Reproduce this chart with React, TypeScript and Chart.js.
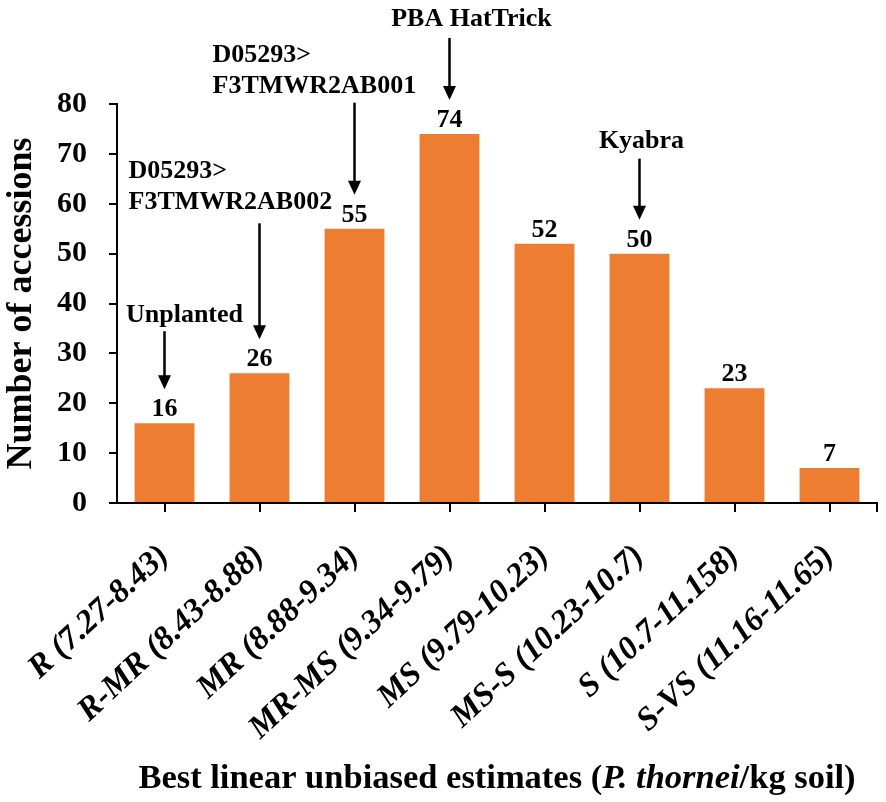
import { useEffect, useRef } from "react";
import { Chart, registerables } from "chart.js";

Chart.register(...registerables);

// ---- data ----
const categories = [
  "R (7.27-8.43)",
  "R-MR (8.43-8.88)",
  "MR (8.88-9.34)",
  "MR-MS (9.34-9.79)",
  "MS (9.79-10.23)",
  "MS-S (10.23-10.7)",
  "S (10.7-11.158)",
  "S-VS (11.16-11.65)",
];
const accessions = [16, 26, 55, 74, 52, 50, 23, 7];
const yTickValues = [0, 10, 20, 30, 40, 50, 60, 70, 80];
const annotationTargets = [0, 1, 2, 3, 5];
const annotationTexts = [
  ["Unplanted"],
  ["D05293>", "F3TMWR2AB002"],
  ["D05293>", "F3TMWR2AB001"],
  ["PBA HatTrick"],
  ["Kyabra"],
];
const xTitleRuns = [
  { text: "Best linear unbiased estimates (", italic: false },
  { text: "P. thornei", italic: true },
  { text: "/kg soil)", italic: false },
];
const yTitle = "Number of accessions";

// ---- styles / layout (not data) ----
const FONT = "'Liberation Serif', 'Times New Roman', serif";
const BAR_COLOR = "#ED7D31";
const annotationLayout = [
  { dx: 20, align: "center", len: 58, gap: 9 },
  { dx: -131, align: "left", len: 116, gap: 14 },
  { dx: -142, align: "left", len: 92, gap: 10 },
  { dx: 22, align: "center", len: 62, gap: 12 },
  { dx: 2, align: "center", len: 61, gap: 11 },
];

const valueLabelPlugin = {
  id: "valueLabels",
  afterDatasetsDraw(chart: any) {
    const ctx = chart.ctx;
    const meta = chart.getDatasetMeta(0);
    ctx.save();
    ctx.fillStyle = "#000";
    ctx.font = `bold 26px ${FONT}`;
    ctx.textAlign = "center";
    ctx.textBaseline = "alphabetic";
    meta.data.forEach((bar: any, i: number) => {
      ctx.fillText(String(accessions[i]), bar.x, bar.y - 7);
    });
    ctx.restore();
  },
};

const arrowPlugin = {
  id: "arrows",
  afterDatasetsDraw(chart: any) {
    const ctx = chart.ctx;
    const xs = chart.scales.x;
    const ys = chart.scales.y;
    ctx.save();
    ctx.strokeStyle = "#000";
    ctx.fillStyle = "#000";
    ctx.lineWidth = 2.5;
    ctx.font = `bold 26px ${FONT}`;
    ctx.textBaseline = "alphabetic";
    annotationTargets.forEach((idx, k) => {
      const lay = annotationLayout[k];
      const x = xs.getPixelForValue(idx);
      const top = ys.getPixelForValue(accessions[idx]);
      const tip = top - 34;
      const start = tip - lay.len;
      const headH = 14;
      const headW = 6.5;
      ctx.beginPath();
      ctx.moveTo(x, start);
      ctx.lineTo(x, tip - headH + 2);
      ctx.stroke();
      ctx.beginPath();
      ctx.moveTo(x, tip);
      ctx.lineTo(x - headW, tip - headH);
      ctx.lineTo(x + headW, tip - headH);
      ctx.closePath();
      ctx.fill();
      const lines = annotationTexts[k];
      ctx.textAlign = lay.align as CanvasTextAlign;
      lines.forEach((line, j) => {
        const baseline = start - lay.gap - (lines.length - 1 - j) * 31;
        ctx.fillText(line, x + lay.dx, baseline);
      });
    });
    // end tick of the x axis
    const area = chart.chartArea;
    ctx.lineWidth = 2;
    ctx.beginPath();
    ctx.moveTo(area.right, area.bottom);
    ctx.lineTo(area.right, area.bottom + 9);
    ctx.stroke();
    ctx.restore();
  },
};

const xTitlePlugin = {
  id: "xTitle",
  afterDraw(chart: any) {
    const ctx = chart.ctx;
    const area = chart.chartArea;
    ctx.save();
    ctx.fillStyle = "#000";
    ctx.textBaseline = "alphabetic";
    ctx.textAlign = "left";
    const fontFor = (it: boolean) => `${it ? "italic " : ""}bold 34.5px ${FONT}`;
    let total = 0;
    xTitleRuns.forEach((r) => {
      ctx.font = fontFor(r.italic);
      total += ctx.measureText(r.text).width;
    });
    let x = (area.left + area.right) / 2 - total / 2;
    const y = 788;
    xTitleRuns.forEach((r) => {
      ctx.font = fontFor(r.italic);
      ctx.fillText(r.text, x, y);
      x += ctx.measureText(r.text).width;
    });
    ctx.restore();
  },
};

export default function App() {
  const ref = useRef<HTMLCanvasElement>(null);
  useEffect(() => {
    if (!ref.current) return;
    const chart = new Chart(ref.current, {
      type: "bar",
      data: {
        labels: categories,
        datasets: [
          {
            data: accessions,
            backgroundColor: BAR_COLOR,
            borderWidth: 0,
            barPercentage: 0.63,
            categoryPercentage: 1,
          },
        ],
      },
      options: {
        animation: false,
        responsive: true,
        maintainAspectRatio: false,
        layout: { padding: { top: 104, right: 9, left: 0, bottom: 0 } },
        plugins: {
          legend: { display: false },
          tooltip: { enabled: false },
        },
        scales: {
          x: {
            grid: {
              offset: false,
              drawOnChartArea: false,
              drawTicks: true,
              tickLength: 9,
              color: "#000",
              lineWidth: 2,
            },
            border: { display: true, color: "#000", width: 2 },
            ticks: {
              autoSkip: false,
              minRotation: 43,
              maxRotation: 43,
              padding: 25,
              color: "#000",
              font: { family: FONT, size: 33, weight: "bold", style: "italic" },
            },
            afterFit(scale: any) {
              scale.height = 299;
            },
          },
          y: {
            min: 0,
            max: 80,
            afterBuildTicks(scale: any) {
              scale.ticks = yTickValues.map((v) => ({ value: v }));
            },
            grid: {
              drawOnChartArea: false,
              drawTicks: true,
              tickLength: 8,
              color: "#000",
              lineWidth: 2,
            },
            border: { display: true, color: "#000", width: 2 },
            ticks: {
              padding: 22,
              color: "#000",
              font: { family: FONT, size: 30, weight: "bold" },
            },
            title: {
              display: true,
              text: yTitle,
              color: "#000",
              padding: 0,
              font: { family: FONT, size: 36, weight: "bold" },
            },
            afterFit(scale: any) {
              scale.width = 117;
            },
          },
        },
      },
      plugins: [valueLabelPlugin, arrowPlugin, xTitlePlugin],
    });
    return () => chart.destroy();
  }, []);
  return (
    <div style={{ position: "absolute", left: 0, top: 0, width: 886, height: 802, background: "#fff" }}>
      <canvas ref={ref} />
    </div>
  );
}
